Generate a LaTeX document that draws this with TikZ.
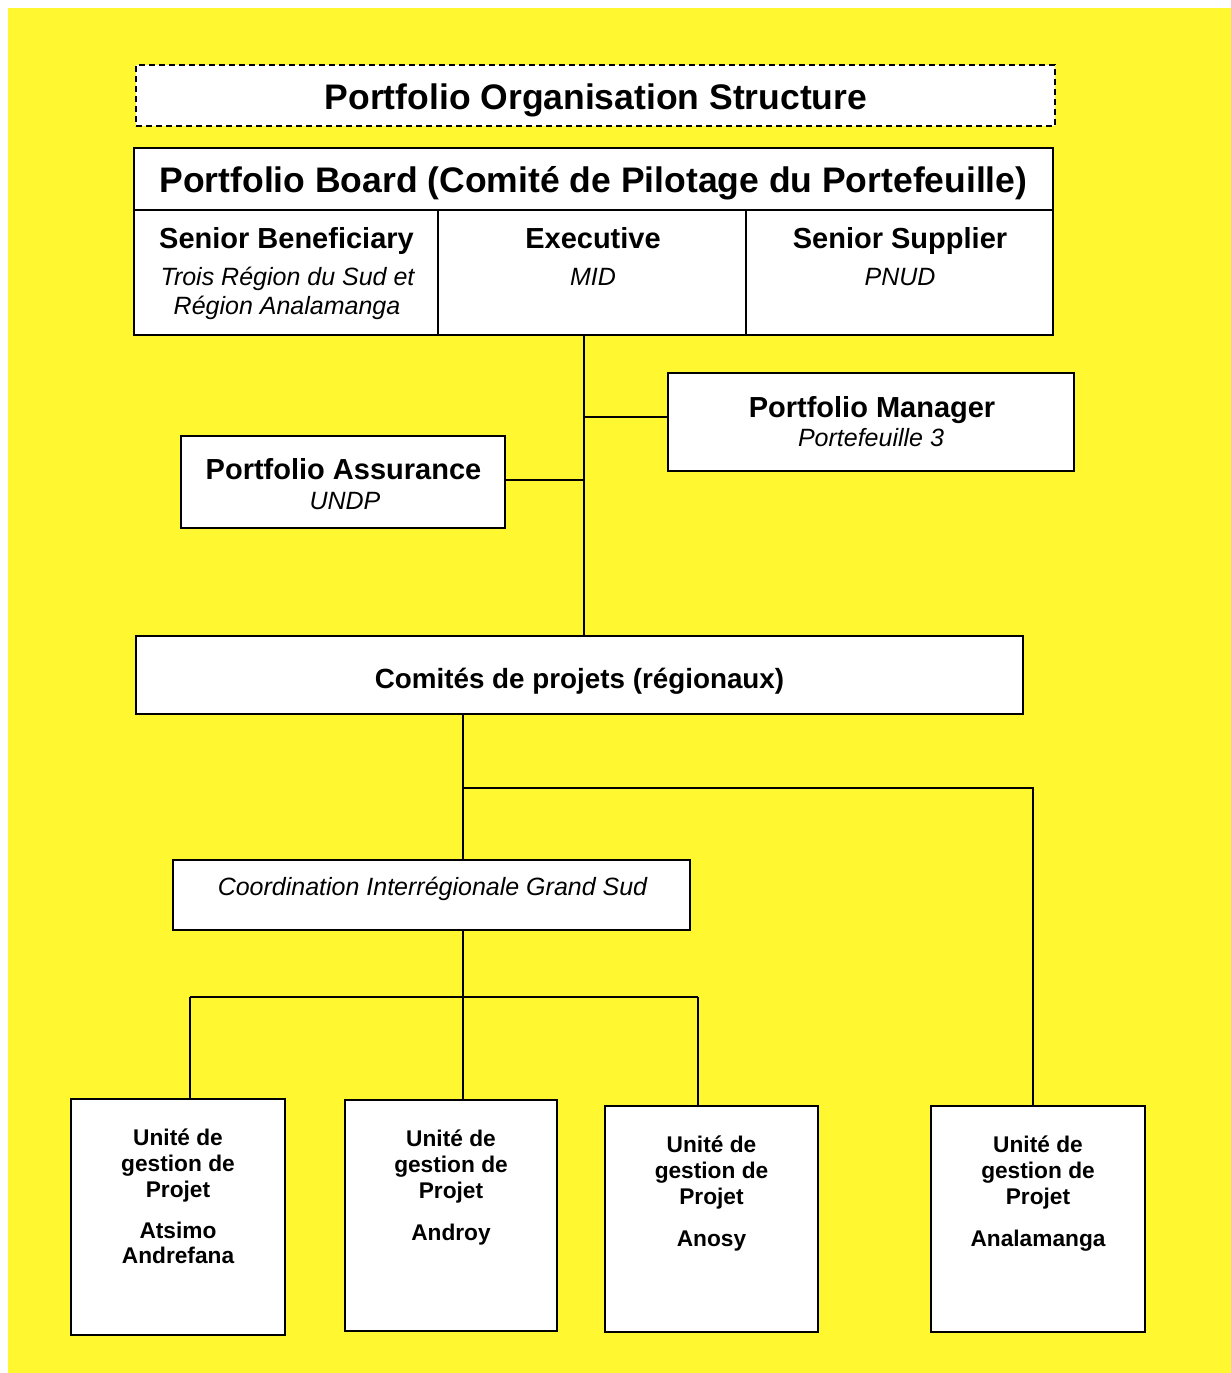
\documentclass[tikz,border=0pt]{standalone}
\usepackage{fontspec}
\setmainfont{Liberation Sans}
\definecolor{bgyellow}{RGB}{255,247,48}
\begin{document}
\begin{tikzpicture}[x=1pt,y=-1pt,
  box/.style={draw,line width=1.6pt,fill=white,inner sep=0pt},
  conn/.style={line width=1.3pt},
  tbig/.style={font=\fontsize{35.5}{40}\selectfont\bfseries,anchor=base,inner sep=0pt},
  thead/.style={font=\fontsize{29}{34}\selectfont\bfseries,anchor=base,inner sep=0pt},
  tit/.style={font=\fontsize{25}{30}\selectfont\itshape,anchor=base,inner sep=0pt},
  tmid/.style={font=\fontsize{27.8}{32}\selectfont\bfseries,anchor=base,inner sep=0pt},
  tsmall/.style={font=\fontsize{22.7}{26}\selectfont\bfseries,anchor=base,inner sep=0pt}]
\path[use as bounding box] (0,0) rectangle (1231,1373);
\fill[white] (0,0) rectangle (1231,1373);
\fill[bgyellow] (8,8) rectangle (1231,1373);

% title
\node[draw,line width=1.5pt,dash pattern=on 6pt off 4pt,fill=white,inner sep=0pt,minimum width=919pt,minimum height=61pt] (title) at (595.5,95.5) {};
\node[tbig] (titletext) at (596,109) {Portfolio Organisation Structure};

% board
\node[box,minimum width=919pt,minimum height=62pt] (board) at (593.5,179) {};
\node[tbig] (boardtext) at (593.5,192) {Portfolio Board (Comité de Pilotage du Portefeuille)};
\node[box,minimum width=304pt,minimum height=125pt] (sb) at (286,272.5) {};
\node[box,minimum width=308pt,minimum height=125pt] (exe) at (592,272.5) {};
\node[box,minimum width=307pt,minimum height=125pt] (ss) at (899.5,272.5) {};
\node[thead] (sbt) at (286.5,248) {Senior Beneficiary};
\node[tit] (sbs1) at (287.5,285) {Trois Région du Sud et};
\node[tit] (sbs2) at (287,314) {Région Analamanga};
\node[thead] (exet) at (593,248) {Executive};
\node[tit] (exes) at (593,285) {MID};
\node[thead] (sst) at (900,248) {Senior Supplier};
\node[tit] (sss) at (900,285) {PNUD};

% manager and assurance
\node[box,minimum width=406pt,minimum height=98pt] (mgr) at (871,422) {};
\node[thead] (mgrt) at (872,417.5) {Portfolio Manager};
\node[tit] (mgrs) at (871,446) {Portefeuille 3};
\node[box,minimum width=324pt,minimum height=92pt] (asr) at (343,482) {};
\node[thead] (asrt) at (343.5,479.5) {Portfolio Assurance};
\node[tit] (asrs) at (345,509) {UNDP};

% comites
\node[box,minimum width=887pt,minimum height=78pt] (comites) at (579.5,675) {};
\node[tmid] (comt) at (579.5,688) {Comités de projets (régionaux)};

% coordination
\node[box,minimum width=517pt,minimum height=70pt] (coord) at (431.5,895) {};
\node[tit] (coordt) at (432.5,895) {Coordination Interrégionale Grand Sud};

% unit boxes
\node[box,minimum width=214pt,minimum height=236pt] (u1) at (178,1217) {};
\node[box,minimum width=212pt,minimum height=231pt] (u2) at (451,1215.5) {};
\node[box,minimum width=213pt,minimum height=226pt] (u3) at (711.5,1219) {};
\node[box,minimum width=214pt,minimum height=226pt] (u4) at (1038,1219) {};

\node[tsmall] (u1a) at (178,1145) {Unité de};
\node[tsmall] (u1b) at (178,1171) {gestion de};
\node[tsmall] (u1c) at (178,1197) {Projet};
\node[tsmall] (u1d) at (178,1238) {Atsimo};
\node[tsmall] (u1e) at (178,1263) {Andrefana};

\node[tsmall] (u2a) at (451,1146) {Unité de};
\node[tsmall] (u2b) at (451,1172) {gestion de};
\node[tsmall] (u2c) at (451,1198) {Projet};
\node[tsmall] (u2d) at (451,1240) {Androy};

\node[tsmall] (u3a) at (711.5,1152) {Unité de};
\node[tsmall] (u3b) at (711.5,1178) {gestion de};
\node[tsmall] (u3c) at (711.5,1204) {Projet};
\node[tsmall] (u3d) at (711.5,1246) {Anosy};

\node[tsmall] (u4a) at (1038,1152) {Unité de};
\node[tsmall] (u4b) at (1038,1178) {gestion de};
\node[tsmall] (u4c) at (1038,1204) {Projet};
\node[tsmall] (u4d) at (1038,1246) {Analamanga};

% connectors
\coordinate (tx) at (584,0);
\coordinate (cx) at (463,0);
\coordinate (busA) at (0,788);
\coordinate (busB) at (0,997);
\coordinate (x1) at (190,0);
\coordinate (x3) at (698,0);
\coordinate (x4) at (1033,0);

\draw[conn] (exe.south -| tx) -- (comites.north -| tx);
\draw[conn] ([yshift=5pt]mgr.west) -- ([yshift=5pt]mgr.west -| tx);
\draw[conn] ([yshift=2pt]asr.east) -- ([yshift=2pt]asr.east -| tx);
\draw[conn] (comites.south -| cx) -- (coord.north -| cx);
\draw[conn] (busA -| cx) -- (busA -| x4) -- (u4.north -| x4);
\draw[conn] (coord.south -| cx) -- (u2.north -| cx);
\draw[conn] (busB -| x1) -- (busB -| x3);
\draw[conn] (busB -| x1) -- (u1.north -| x1);
\draw[conn] (busB -| x3) -- (u3.north -| x3);
\end{tikzpicture}
\end{document}
